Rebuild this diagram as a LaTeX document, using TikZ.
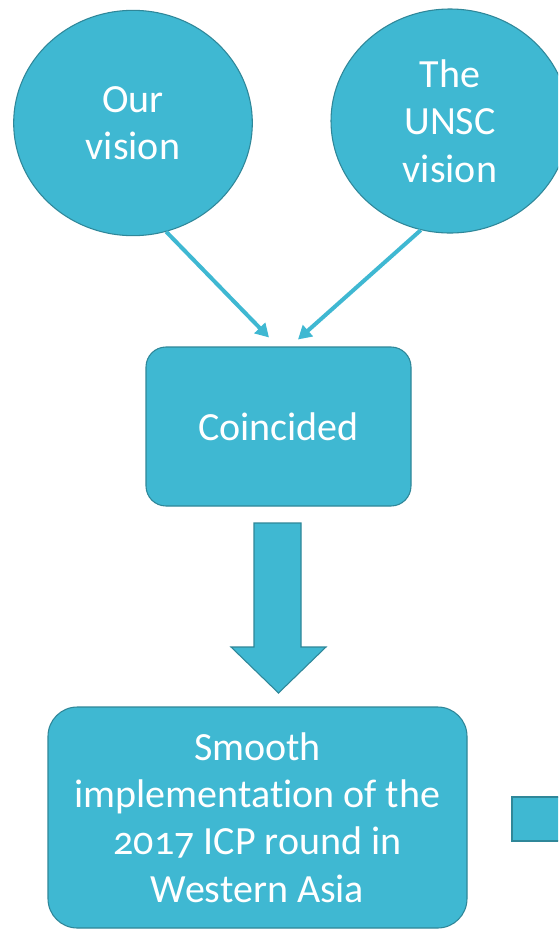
\documentclass[tikz,border=0pt]{standalone}
\usepackage{fontspec}
\setmainfont{Carlito}[Numbers=OldStyle,Ligatures=NoCommon]
\usepackage{tikz}
\usetikzlibrary{shapes.geometric,arrows.meta}

\definecolor{tealfill}{HTML}{3FB8D2}
\definecolor{tealline}{HTML}{2F8799}

\begin{document}
\begin{tikzpicture}[x=.75pt,y=-.75pt,
    bubble/.style={ellipse,draw=tealline,fill=tealfill,line width=.8pt,text=white,
        align=center,font=\fontsize{30}{35.6}\selectfont},
    panel/.style={rectangle,rounded corners=15pt,draw=tealline,fill=tealfill,line width=.8pt,
        text=white,align=center,font=\fontsize{30}{35.6}\selectfont},
    link/.style={tealfill,line width=3pt,-{Triangle[length=10pt,width=11pt]}}]
             \clip (0,0) rectangle (558,929);
             \fill[white] (0,0) rectangle (558,929);

             \node[bubble,minimum width=179pt,minimum height=169pt] (ours) at (133,123) {Our\\vision};
             \node[bubble,minimum width=178.5pt,minimum height=168pt] (unsc) at (450,121) {The\\UNSC\\vision};

             \node[panel,minimum width=198.75pt,minimum height=119.25pt] (coinc) at (278.5,426.5) {Coincided};

             \draw[link] (ours.-73) -- ([shift={(-9.5,-9)}]coinc.north);
             \draw[link] (unsc.-105) -- ([shift={(19.5,-7)}]coinc.north);

             % block arrow
             \draw[tealline,fill=tealfill,line width=.8pt]
                (254,523) -- (301,523) -- (301,647) -- (326,647) -- (278.5,693)
                -- (231,647) -- (254,647) -- cycle;

             \node[panel,rounded corners=22pt,minimum width=314.25pt,minimum height=165.75pt] (smooth) at (257.5,817.5)
                {Smooth\\implementation of the\\2017 ICP round in\\Western Asia};

             \draw[tealline,fill=tealfill,line width=.8pt] (512,797) rectangle (580,841);
\end{tikzpicture}
\end{document}
